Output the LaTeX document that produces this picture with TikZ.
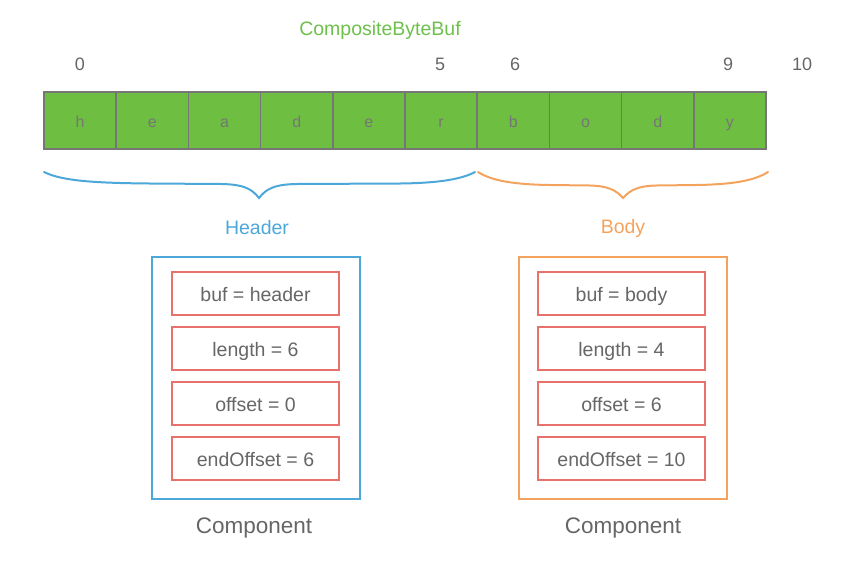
\documentclass[tikz,border=0pt]{standalone}
\usepackage{fontspec}
\setmainfont{Liberation Sans}
\definecolor{cellgreen}{HTML}{6EBE42}
\definecolor{titlegreen}{HTML}{6DC04B}
\definecolor{cellgray}{HTML}{767676}
\definecolor{txtgray}{HTML}{666666}
\definecolor{hblue}{HTML}{4DA8DA}
\definecolor{borange}{HTML}{F4A35E}
\definecolor{fred}{HTML}{E8726B}
\begin{document}
\begin{tikzpicture}[x=1pt,y=-1pt,
  cell/.style={draw=cellgray,fill=cellgreen,line width=1.6pt,minimum width=72.2pt,minimum height=57pt,inner sep=0pt,text height=14pt,text depth=1pt,text=cellgray,font=\fontsize{16}{18}\selectfont},
  idx/.style={text=txtgray,font=\fontsize{18}{20}\selectfont,inner sep=0pt},
  outerbox/.style={draw=#1,line width=1.6pt,minimum width=208pt,minimum height=242pt,inner sep=0pt},
  field/.style={draw=fred,line width=1.4pt,minimum width=167pt,minimum height=43pt,inner sep=0pt,text height=15pt,text depth=0pt,text=txtgray,font=\fontsize{19.5}{21}\selectfont},
  lbl/.style={font=\fontsize{19.5}{21}\selectfont,inner sep=0pt},
  brace/.style={line width=2pt,line cap=round}]
\useasboundingbox (0,0) rectangle (850,566);
\node[lbl,text=titlegreen] (title) at (380,30) {CompositeByteBuf};
\foreach \i/\t in {0/h,1/e,2/a,3/d,4/e,5/r,6/b,7/o,8/d,9/y}
  \node[cell] (c\i) at ({44+72.2*\i+36.1},120.5) {\t};
\node[idx] (i0) at (80,64) {0};
\node[idx] (i5) at (440,64) {5};
\node[idx] (i6) at (515,64) {6};
\node[idx] (i9) at (728,64) {9};
\node[idx] (i10) at (802,64) {10};
% braces
\coordinate (hl) at (44,172);
\coordinate (ht) at (259,198);
\coordinate (hr) at (475,172);
\draw[brace,hblue] (hl) .. controls (62,181) and (95,183) .. (150,183.5) -- (222,184)
  .. controls (244,184.5) and (252,189) .. (ht)
  .. controls (266,189) and (274,184.5) .. (296,184) -- (400,183.5)
  .. controls (440,183) and (462,179) .. (hr);
\coordinate (bl) at (478,172);
\coordinate (bt) at (623,198);
\coordinate (br) at (768,172);
\draw[brace,borange] (bl) .. controls (492,181) and (515,184.5) .. (550,185) -- (590,185.5)
  .. controls (608,186) and (616,190) .. (bt)
  .. controls (630,190) and (638,186) .. (656,185.5) -- (696,185)
  .. controls (731,184.5) and (754,181) .. (br);
\node[lbl,text=hblue] (hlabel) at (257,228) {Header};
\node[lbl,text=borange] (blabel) at (623,228) {Body};
% header component
\node[outerbox=hblue] (hbox) at (256,378) {};
\node[field] (hf1) at (255.5,293.5) {buf = header};
\node[field] (hf2) at (255.5,348.5) {length = 6};
\node[field] (hf3) at (255.5,403.5) {offset = 0};
\node[field] (hf4) at (255.5,458.5) {endOffset = 6};
\node[lbl,text=txtgray,font=\fontsize{22.5}{24}\selectfont] (hcomp) at (254,528) {Component};
% body component
\node[outerbox=borange] (bbox) at (623,378) {};
\node[field] (bf1) at (621.5,293.5) {buf = body};
\node[field] (bf2) at (621.5,348.5) {length = 4};
\node[field] (bf3) at (621.5,403.5) {offset = 6};
\node[field] (bf4) at (621.5,458.5) {endOffset = 10};
\node[lbl,text=txtgray,font=\fontsize{22.5}{24}\selectfont] (bcomp) at (623,528) {Component};
\end{tikzpicture}
\end{document}
